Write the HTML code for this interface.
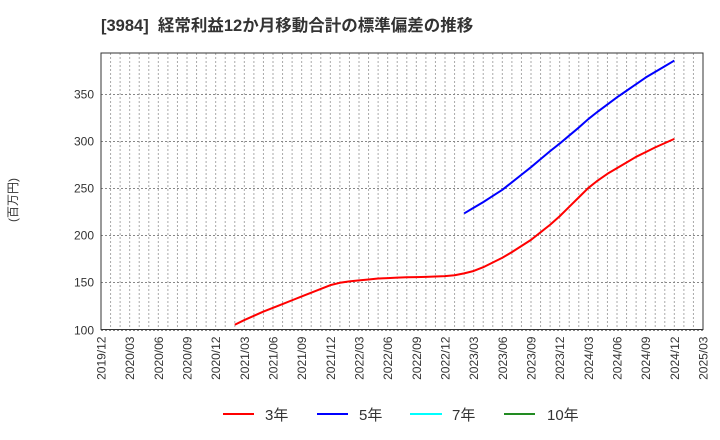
<!DOCTYPE html>
<html><head><meta charset="utf-8"><style>
body{margin:0;background:#fff;}
svg{display:block;font-family:"Liberation Sans","Noto Sans CJK JP",sans-serif;}
</style></head><body>
<svg id="chart" width="720" height="440" viewBox="0 0 720 440">
<text x="101" y="31" font-size="16.5" font-weight="bold" fill="#333" xml:space="preserve">[3984]  経常利益12か月移動合計の標準偏差の推移</text>
<text transform="translate(17,200) rotate(-90)" font-size="12" fill="#333" text-anchor="middle">(百万円)</text>
<g id="grid"></g><g id="axes"></g><g id="series"></g>
<g>
<line x1="223" y1="414" x2="254" y2="414" stroke="#ff0000" stroke-width="2"/><text x="265" y="420" font-size="15" fill="#333">3年</text>
<line x1="317" y1="414" x2="348" y2="414" stroke="#0000ff" stroke-width="2"/><text x="359" y="420" font-size="15" fill="#333">5年</text>
<line x1="410" y1="414" x2="442" y2="414" stroke="#00ffff" stroke-width="2"/><text x="452" y="420" font-size="15" fill="#333">7年</text>
<line x1="504" y1="414" x2="535" y2="414" stroke="#228b22" stroke-width="2"/><text x="547" y="420" font-size="15" fill="#333">10年</text>
</g>
</svg>
<script>
const xTickLabels=["2019/12","2020/03","2020/06","2020/09","2020/12","2021/03","2021/06","2021/09","2021/12","2022/03","2022/06","2022/09","2022/12","2023/03","2023/06","2023/09","2023/12","2024/03","2024/06","2024/09","2024/12","2025/03"];
const yTicks=[100,150,200,250,300,350];
const red3StartMonth=14;
const red3=[105,110,114.5,119,123,127,131,135,139,143,147,149.5,151,152,153,154,154.5,155,155.3,155.5,155.8,156.1,156.5,157.5,159.5,162,166,171,176,182,188.5,195,203,211,220,230,240,250,258,265,271,277,283,288,293,297.5,302];
const blue5StartMonth=38;
const blue5=[223,229,235,241.5,248,256,264,272,280.5,289,297,305.5,314,323,331,338.5,346,353,360,367,373,379,385];

const L=101,R=703,T=53,B=329.5,NM=63,YMIN=100,YMAX=393;
const xs=m=>L+(R-L)*m/NM;
const ys=v=>B-(v-YMIN)/(YMAX-YMIN)*(B-T);
const NS="http://www.w3.org/2000/svg";
function mk(tag,at,parent){const e=document.createElementNS(NS,tag);for(const k in at)e.setAttribute(k,at[k]);parent.appendChild(e);return e;}
const grid=document.getElementById('grid'),axes=document.getElementById('axes'),series=document.getElementById('series');
for(let m=1;m<NM;m++){const l=mk('line',{x1:xs(m),y1:T,x2:xs(m),y2:B,stroke:'#aaa','stroke-width':1,'stroke-dasharray':'2,2'},grid);

}
yTicks.forEach(v=>{const y=Math.round(ys(v))+0.5;
const l=mk('line',{x1:L,y1:y,x2:R,y2:y,stroke:'#888','stroke-width':1,'stroke-dasharray':'2,2'},grid);


const t=mk('text',{x:L-7,y:y+4,'font-size':12,fill:'#333','text-anchor':'end'},axes);t.textContent=v;

});
const fr=mk('rect',{x:L,y:T,width:R-L,height:B-T,fill:'none',stroke:'#333','stroke-width':1},axes);


xTickLabels.forEach((s,i)=>{const x=xs(i*3);const t=mk('text',{transform:`translate(${x+4.5},${B+7}) rotate(-90)`,'font-size':12,fill:'#333','text-anchor':'end'},axes);t.textContent=s;

});
function draw(arr,start,color,name){const d=arr.map((v,i)=>(i?'L':'M')+xs(start+i).toFixed(2)+','+ys(v).toFixed(2)).join(' ');
const p=mk('path',{d:d,fill:'none',stroke:color,'stroke-width':2,'stroke-linejoin':'round'},series);

}
draw(red3,red3StartMonth,'#ff0000','line-3y');
draw(blue5,blue5StartMonth,'#0000ff','line-5y');
</script>
</body></html>
